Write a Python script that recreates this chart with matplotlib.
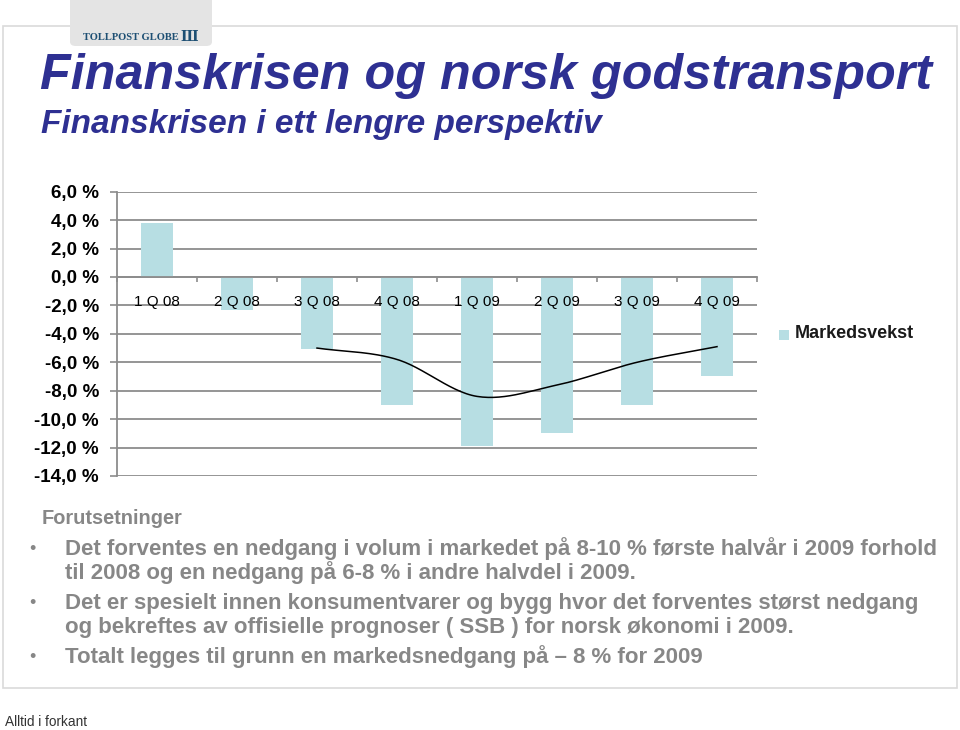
import numpy as np
import matplotlib
matplotlib.use('Agg')
import matplotlib.pyplot as plt
from matplotlib.patches import Rectangle, FancyBboxPatch

plt.rcParams['font.family'] = ['Liberation Sans', 'DejaVu Sans']

# data
quarters = ['1 Q 08', '2 Q 08', '3 Q 08', '4 Q 08', '1 Q 09', '2 Q 09', '3 Q 09', '4 Q 09']
markedsvekst = [3.8, -2.3, -5.1, -9.0, -11.9, -11.0, -9.0, -7.0]
trend_idx = [2, 3, 4, 5, 6, 7]
trend_vals = [-5.0, -5.8, -8.4, -7.6, -6.0, -4.9]
yticks = [6, 4, 2, 0, -2, -4, -6, -8, -10, -12, -14]

title = 'Finanskrisen og norsk godstransport'
subtitle = 'Finanskrisen i ett lengre perspektiv'
heading = 'Forutsetninger'
bullets = [
    ['Det forventes en nedgang i volum i markedet på 8-10 % første halvår i 2009 forhold',
     'til 2008 og en nedgang på 6-8 % i andre halvdel i 2009.'],
    ['Det er spesielt innen konsumentvarer og bygg hvor det forventes størst nedgang',
     'og bekreftes av offisielle prognoser ( SSB ) for norsk økonomi i 2009.'],
    ['Totalt legges til grunn en markedsnedgang på – 8 % for 2009'],
]

BLUE = '#2E3092'
BAR = '#B7DEE3'
GRID = '#8C8C8C'
TXT = '#878787'


def catmull_rom(x, y, n=30):
    # smooth curve through the points (like Excel's smoothed line)
    x = np.asarray(x, float)
    y = np.asarray(y, float)
    px = np.concatenate([[2 * x[0] - x[1]], x, [2 * x[-1] - x[-2]]])
    py = np.concatenate([[2 * y[0] - y[1]], y, [2 * y[-1] - y[-2]]])
    xs, ys = [], []
    t = np.linspace(0, 1, n)
    for i in range(1, len(px) - 2):
        for p, out in ((px, xs), (py, ys)):
            p0, p1, p2, p3 = p[i - 1], p[i], p[i + 1], p[i + 2]
            out.extend(0.5 * (2 * p1 + (-p0 + p2) * t
                              + (2 * p0 - 5 * p1 + 4 * p2 - p3) * t ** 2
                              + (-p0 + 3 * p1 - 3 * p2 + p3) * t ** 3))
    return np.array(xs), np.array(ys)


W, H = 960, 730
fig = plt.figure(figsize=(W / 100, H / 100), dpi=100)


def fx(px):
    return px / W


def fy(py):
    return 1 - py / H


# slide frame and logo tab
fig.patches.append(Rectangle((fx(3), fy(688)), fx(954), (662) / H, transform=fig.transFigure,
                             fill=False, ec='#DADADA', lw=1.2))
fig.patches.append(FancyBboxPatch((fx(70), fy(46)), fx(142), 60 / H, transform=fig.transFigure,
                                  boxstyle='round,pad=0,rounding_size=0.006',
                                  fc='#E4E4E4', ec='none'))
fig.text(fx(83), fy(37), 'TOLLPOST GLOBE', fontsize=7.6, fontweight='bold',
         family='Liberation Serif', color='#1D4F73', va='center', ha='left')
fig.text(fx(180), fy(37), 'Ш', fontsize=10, fontweight='bold',
         family='DejaVu Serif', color='#1D4F73', va='center', ha='left')

fig.text(fx(40), fy(76), title, fontsize=36.2, fontweight='bold', style='italic',
         color=BLUE, va='center', ha='left')
fig.text(fx(41), fy(125), subtitle, fontsize=24, fontweight='bold', style='italic',
         color=BLUE, va='center', ha='left')

# chart
ax = fig.add_axes([fx(117), fy(476), fx(640), (476 - 191.7) / H])
x = np.arange(len(quarters))
ax.bar(x, markedsvekst, width=0.4, color=BAR, zorder=2)
sx, sy = catmull_rom(trend_idx, trend_vals)
ax.plot(sx, sy, color='black', lw=1.1, zorder=3)

ax.set_xlim(-0.5, len(quarters) - 0.5)
ax.set_ylim(-14, 6)
ax.set_yticks(yticks)
ax.set_yticklabels([('%.1f %%' % v).replace('.', ',') for v in yticks],
                   fontsize=13.5, fontweight='bold')
ax.yaxis.grid(True, color=GRID, lw=1.3)
ax.set_axisbelow(True)
ax.xaxis.set_zorder(5)
ax.tick_params(axis='y', length=5, width=1.2, color=GRID, pad=8)

ax.spines['bottom'].set_position(('data', 0))
ax.set_xticks(x)
ax.set_xticklabels(quarters, fontsize=11)
ax.set_xticks(np.arange(len(quarters) + 1) - 0.5, minor=True)
ax.tick_params(axis='x', which='major', length=0, pad=13)
ax.tick_params(axis='x', which='minor', length=3.5, width=1.2, color=GRID, direction='out')
for s in ['top', 'right']:
    ax.spines[s].set_visible(False)
for s in ['left', 'bottom']:
    ax.spines[s].set_color(GRID)
    ax.spines[s].set_linewidth(1.3)
ax.spines['left'].set_zorder(0.6)
ax.patch.set_alpha(0)

# legend
fig.patches.append(Rectangle((fx(779), fy(340)), fx(10), 10 / H, transform=fig.transFigure,
                             fc=BAR, ec='none'))
fig.text(fx(795), fy(334), 'Markedsvekst', fontsize=13, fontweight='bold',
         color='#1A1A1A', va='center', ha='left')

# bullet text
fig.text(fx(42), fy(519), heading, fontsize=14.4, fontweight='bold', color=TXT,
         va='center', ha='left')
ys = [[549, 573], [603, 627], [657]]
for lines, yy in zip(bullets, ys):
    fig.text(fx(29), fy(yy[0]), '•', fontsize=13, color=TXT, va='center', ha='left')
    for line, py in zip(lines, yy):
        fig.text(fx(65), fy(py), line, fontsize=16, fontweight='bold', color=TXT,
                 va='center', ha='left')

fig.text(fx(5), fy(722), 'Alltid i forkant', fontsize=9.8, color='#333333',
         va='center', ha='left')

fig.savefig('out.png', dpi=100)
